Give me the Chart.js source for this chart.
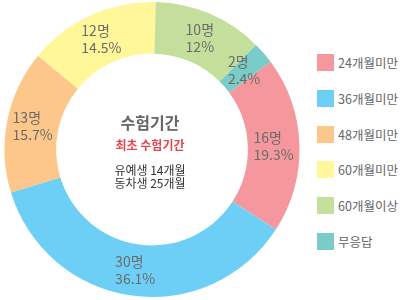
<!DOCTYPE html>
<html>
<head>
<meta charset="utf-8">
<script src="https://cdn.jsdelivr.net/npm/chart.js@4.4.0/dist/chart.umd.min.js"></script>
<style>
  html, body { margin: 0; padding: 0; background: #fff; }
  body { width: 403px; height: 300px; position: relative; overflow: hidden; font-family: "Noto Sans CJK KR", "Noto Sans", sans-serif; }
  #wrap { position: absolute; left: 0; top: 0; width: 304px; height: 300px; }
  #legend { position: absolute; left: 317px; top: 54px; margin: 0; padding: 0; list-style: none; }
  #legend li { height: 17px; margin-bottom: 18.8px; display: flex; align-items: center; font-size: 12.5px; color: #666; }
  #legend li span { display: inline-block; width: 17px; height: 17px; margin-right: 4px; }
</style>
</head>
<body>
<div id="wrap"><canvas id="donut"></canvas></div>
<ul id="legend"></ul>
<script>
// 수험기간 분포
const categories = ['24개월미만', '36개월미만', '48개월미만', '60개월미만', '60개월이상', '무응답']
const counts = [16, 30, 13, 12, 10, 2]
const percents = ['19.3%', '36.1%', '15.7%', '14.5%', '12%', '2.4%']
const colors = ['#f5989d', '#6dcff6', '#fdc68a', '#fff79a', '#c4df9b', '#7accc8']

const centerTitle = '수험기간'
const centerSub = '최초 수험기간'
const centerLines = ['유예생 14개월', '동차생 25개월']

const FONT = '"Noto Sans CJK KR", "Noto Sans", sans-serif'

// legend
var legend = document.getElementById('legend')
categories.forEach(function (c, i) {
  var li = document.createElement('li')
  li.innerHTML = '<span style="background:' + colors[i] + '"></span>' + c
  legend.appendChild(li)
})

const sliceLabels = {
  id: 'sliceLabels',
  afterDatasetsDraw(chart) {
    const ctx = chart.ctx
    const meta = chart.getDatasetMeta(0)
    ctx.save()
    ctx.font = '14px ' + FONT
    ctx.fillStyle = '#6b6b6b'
    ctx.textBaseline = 'middle'
    meta.data.forEach(function (arc, i) {
      const p = arc.getCenterPoint()
      const l1 = counts[i] + '명'
      const l2 = percents[i]
      const w = Math.max(ctx.measureText(l1).width, ctx.measureText(l2).width)
      ctx.textAlign = 'left'
      ctx.fillText(l1, p.x - w / 2, p.y - 8)
      ctx.fillText(l2, p.x - w / 2, p.y + 9)
    })
    ctx.restore()
  }
}

const centerText = {
  id: 'centerText',
  afterDraw(chart) {
    const ctx = chart.ctx
    const a = chart.chartArea
    const cx = (a.left + a.right) / 2
    const cy = (a.top + a.bottom) / 2
    ctx.save()
    ctx.textAlign = 'center'
    ctx.textBaseline = 'middle'
    ctx.font = 'bold 16px ' + FONT
    ctx.fillStyle = '#666'
    ctx.fillText(centerTitle, cx - 2, cy - 27)
    ctx.font = 'bold 12px ' + FONT
    ctx.fillStyle = '#e2464f'
    ctx.fillText(centerSub, cx - 2, cy - 4)
    ctx.font = '12px ' + FONT
    ctx.fillStyle = '#333'
    ctx.fillText(centerLines[0], cx - 2, cy + 21)
    ctx.fillText(centerLines[1], cx - 2, cy + 34)
    ctx.restore()
  }
}

new Chart(document.getElementById('donut'), {
  type: 'doughnut',
  data: {
    labels: categories,
    datasets: [{
      data: counts,
      backgroundColor: colors,
      borderWidth: 0
    }]
  },
  options: {
    responsive: true,
    maintainAspectRatio: false,
    animation: false,
    rotation: 53.5,
    cutout: '65%',
    layout: { padding: { top: 2, bottom: 3, left: 4, right: 4 } },
    plugins: {
      legend: { display: false },
      tooltip: { enabled: false }
    }
  },
  plugins: [sliceLabels, centerText]
})
</script>
</body>
</html>
